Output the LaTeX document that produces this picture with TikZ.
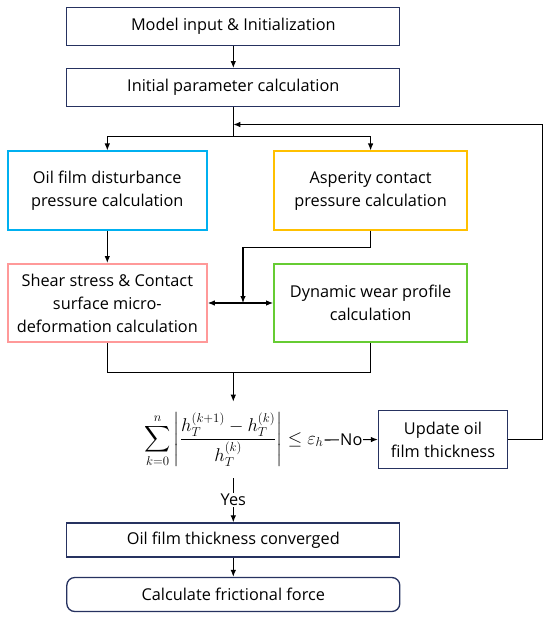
\documentclass[tikz,border=0pt]{standalone}
\usepackage{amsmath,amssymb}
\usepackage{graphicx}
\usepackage{fontspec}
\setmainfont{Open Sans}
\usepackage{tikz}
\usetikzlibrary{positioning,arrows.meta,calc}

\definecolor{navyline}{RGB}{38,50,96}
\definecolor{oilblue}{RGB}{0,176,240}
\definecolor{aspgold}{RGB}{255,192,0}
\definecolor{shearpink}{RGB}{255,153,153}
\definecolor{weargreen}{RGB}{102,204,51}

\tikzset{
  flowbox/.style={draw=navyline,line width=1.3pt,fill=white,align=center,
    inner sep=2pt,font=\fontsize{16.3}{23}\selectfont},
  colbox/.style={flowbox,draw=#1,line width=2pt},
  flow/.style={line width=1.1pt,-{Latex[length=7pt,width=5.5pt]}},
  plain/.style={line width=1.1pt},
}

\begin{document}
\begin{tikzpicture}[x=1pt,y=-1pt]
  \useasboundingbox (0,0) rectangle (550,620);
  % main column
  \node[flowbox,minimum width=333pt,minimum height=38pt] (init) at (233.3,26.5) {Model input \& Initialization};
  \node[flowbox,minimum width=333pt,minimum height=38pt] (param) at (233.3,87.7) {Initial parameter calculation};
  \node[colbox=oilblue,minimum width=199pt,minimum height=78pt] (oil) at (107.3,190.5) {Oil film disturbance\\pressure calculation};
  \node[colbox=aspgold,minimum width=193pt,minimum height=78pt] (asp) at (370.6,190.5) {Asperity contact\\pressure calculation};
  \node[colbox=shearpink,minimum width=199pt,minimum height=78pt] (shear) at (107.3,303) {Shear stress \& Contact\\surface micro-\\deformation calculation};
  \node[colbox=weargreen,minimum width=193pt,minimum height=78pt] (wear) at (370.6,303) {Dynamic wear profile\\calculation};
  \node[inner sep=1pt] (conv) at (234,440) {\scalebox{1.07}{\fontsize{17}{20}\selectfont$\displaystyle\sum_{k=0}^{n}\left|\frac{h_T^{(k+1)}-h_T^{(k)}}{h_T^{(k)}}\right|\le\varepsilon_h$}};
  \node[flowbox,minimum width=129pt,minimum height=58pt] (upd) at (443,439.5) {Update oil\\film thickness};
  \node[flowbox,minimum width=333pt,minimum height=34pt] (done) at (233.3,540) {Oil film thickness converged};
  \node[flowbox,rounded corners=8pt,minimum width=333pt,minimum height=34pt] (force) at (233.3,594.5) {Calculate frictional force};
  % junctions
  \coordinate (split) at (233.3,136.3);
  \coordinate (back) at (233.3,124.5);
  \coordinate (meet) at (243,303);
  \coordinate (merge) at (233.3,372.7);
  % connectors
  \draw[flow] (init) -- (param);
  \draw[plain] (param) -- (split);
  \draw[flow] (split) -| (oil.north);
  \draw[flow] (split) -| (asp.north);
  \draw[flow] (upd.east) -- ++(34,0) |- (back);
  \draw[flow] (oil) -- (shear);
  \draw[flow] (asp.south) -- ++(0,17) -| (meet);
  \draw[line width=1.1pt,{Latex[length=7pt,width=5.5pt]}-{Latex[length=7pt,width=5.5pt]}] (shear.east) -- (wear.west);
  \draw[plain] (shear.south) |- (merge) -| (wear.south);
  \draw[flow] (merge) -- (233.3,401.7);
  \draw[flow] (conv.east) -- node[fill=white,inner sep=1pt,font=\fontsize{16.3}{19}\selectfont] (no) {No} (upd.west);
  \draw[flow] (233.3,478) -- node[fill=white,inner sep=1pt,font=\fontsize{16.3}{19}\selectfont] (yes) {Yes} (done.north);
  \draw[flow] (done) -- (force);
\end{tikzpicture}
\end{document}
